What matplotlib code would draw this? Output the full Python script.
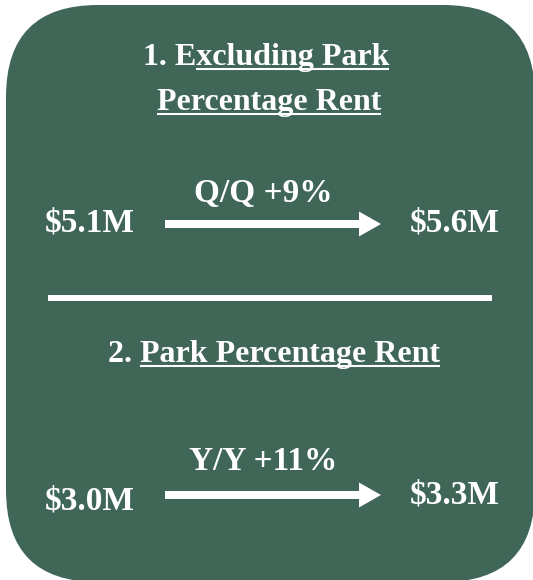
import matplotlib
matplotlib.use("Agg")
import matplotlib.pyplot as plt
from matplotlib.patches import FancyBboxPatch, FancyArrow

# data
periods = ["Q/Q", "Y/Y"]
growth_pct = [9, 11]
start_musd = [5.1, 3.0]
end_musd = [5.6, 3.3]
title_lines = [["1. Excluding Park", "Percentage Rent"], ["2. Park Percentage Rent"]]
# part of each title line that is not underlined
title_plain = [["1. E", ""], ["2. "]]

BG = "#3f6657"
FG = "white"
FONT = "Liberation Serif"
W, H = 533, 580

fig = plt.figure(figsize=(W / 100, H / 100), dpi=100)
ax = fig.add_axes([0, 0, 1, 1])
ax.set_xlim(0, W)
ax.set_ylim(H, 0)
ax.axis("off")

# box runs slightly past the right and bottom edges of the picture
ax.add_patch(FancyBboxPatch((6, 5), 529, 577, boxstyle="round,pad=0,rounding_size=92",
                            fc=BG, ec="none"))

renderer = fig.canvas.get_renderer()
inv = ax.transData.inverted()


def text_width(s, size):
    t = ax.text(0, 0, s, fontsize=size, family=FONT, weight="bold")
    w = t.get_window_extent(renderer).width
    t.remove()
    return w


def underlined(x, y, s, plain, size=23):
    t = ax.text(x, y, s, ha="center", va="baseline", color=FG, fontsize=size,
                family=FONT, weight="bold")
    bb = t.get_window_extent(renderer)
    x0 = bb.x0 + (text_width(plain, size) if plain else 0)
    (dx0, _), (dx1, _) = inv.transform([(x0, 0), (bb.x1, 0)])
    ax.plot([dx0, dx1], [y + 3.5, y + 3.5], color=FG, lw=1.5, solid_capstyle="butt")


# section titles
underlined(266, 65, title_lines[0][0], title_plain[0][0])
underlined(269, 110, title_lines[0][1], title_plain[0][1])
underlined(274, 362, title_lines[1][0], title_plain[1][0])

# value rows: (label baseline, start baseline, end baseline, arrow y)
rows = [(202, 232, 232, 224), (470, 510, 503, 495)]
for i, (yl, ys, ye, ya) in enumerate(rows):
    ax.text(263, yl, f"{periods[i]} +{growth_pct[i]}%", ha="center", va="baseline",
            color=FG, fontsize=24, family=FONT, weight="bold")
    ax.text(90, ys, f"${start_musd[i]:.1f}M", ha="center", va="baseline",
            color=FG, fontsize=24, family=FONT, weight="bold")
    ax.text(455, ye, f"${end_musd[i]:.1f}M", ha="center", va="baseline",
            color=FG, fontsize=24, family=FONT, weight="bold")
    ax.add_patch(FancyArrow(165, ya, 216, 0, width=8, head_width=25, head_length=22,
                            length_includes_head=True, fc=FG, ec="none"))

# divider
ax.plot([48, 492], [298, 298], color=FG, lw=4.3, solid_capstyle="butt")

fig.savefig("out.png", dpi=100)
